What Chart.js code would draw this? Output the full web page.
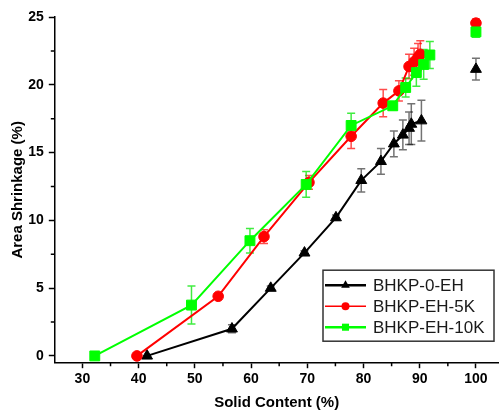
<!DOCTYPE html>
<html>
<head>
<meta charset="utf-8">
<script src="https://cdn.jsdelivr.net/npm/chart.js@4.4.0/dist/chart.umd.min.js"></script>
<style>
  html, body { margin: 0; padding: 0; background: #fff; }
  #wrap { width: 499px; height: 410px; }
</style>
</head>
<body>
<div id="wrap"><canvas id="shrinkChart"></canvas></div>
<script>
// tick positions
const xTicks = [30, 40, 50, 60, 70, 80, 90, 100];
const yTicks = [0, 5, 10, 15, 20, 25];
const xMinor = [35, 45, 55, 65, 75, 85, 95];
const yMinor = [2.5, 7.5, 12.5, 17.5, 22.5];

// BHKP-0-EH
const solid0 = [41.5, 56.6, 63.5, 69.5, 75.1, 79.6, 83.1, 85.4, 87.0, 88.1, 88.5, 90.3, 100];
const shrink0 = [0, 2.0, 5.0, 7.6, 10.2, 12.95, 14.35, 15.65, 16.3, 16.8, 17.1, 17.35, 21.15];
const err0 = [0, 0.3, 0.15, 0.15, 0.2, 0.85, 0.95, 0.95, 1.1, 1.2, 1.5, 1.5, 0.8];

// BHKP-EH-5K
const solid5 = [39.7, 54.15, 62.3, 70.3, 77.8, 83.5, 86.3, 88.1, 89.0, 89.7, 90.1, 100];
const shrink5 = [0, 4.4, 8.8, 12.8, 16.2, 18.65, 19.55, 21.35, 21.7, 22.05, 22.25, 24.55];
const err5 = [0, 0, 0.5, 0.5, 0.9, 1.0, 0.75, 0.9, 1.0, 1.0, 1.0, 0.3];

// BHKP-EH-10K
const solid10 = [32.2, 49.4, 59.8, 69.8, 77.8, 85.2, 87.5, 89.4, 90.7, 91.8, 100];
const shrink10 = [0, 3.75, 8.5, 12.65, 17.0, 18.45, 19.8, 20.9, 21.5, 22.2, 23.9];
const err10 = [0, 1.4, 0.9, 0.95, 0.9, 0.3, 0.7, 1.0, 1.1, 1.0, 0.4];

const FONT = "'Liberation Sans', Arial, sans-serif";

function toPoints(xs, ys) {
    return xs.map((x, i) => ({ x: x, y: ys[i] }));
}

function series(label, xs, ys, errs, color, barColor, style, radius, width, order) {
    return {
        label: label,
        data: toPoints(xs, ys),
        errors: errs,
        barColor: barColor,
        borderColor: color,
        backgroundColor: color,
        borderWidth: width,
        pointStyle: style,
        pointRadius: radius,
        pointBorderWidth: 1,
        pointHoverRadius: radius,
        clip: false,
        order: order,
        // the 100 % point is not joined to the curve
        segment: {
            borderColor: ctx => ctx.p1.parsed.x >= 100 ? 'rgba(0,0,0,0)' : color
        }
    };
}

// vertical error bars with caps, drawn under the markers
const errorBars = {
    id: 'errorBars',
    beforeDatasetsDraw(chart) {
        const ctx = chart.ctx;
        const xs = chart.scales.x, ys = chart.scales.y;
        ctx.save();
        chart.data.datasets.forEach(ds => {
            ctx.strokeStyle = ds.barColor;
            ctx.lineWidth = 1.5;
            ds.data.forEach((p, i) => {
                const e = ds.errors[i];
                if (!e) return;
                const px = xs.getPixelForValue(p.x);
                const top = ys.getPixelForValue(p.y + e);
                const bot = ys.getPixelForValue(p.y - e);
                ctx.beginPath();
                ctx.moveTo(px, top); ctx.lineTo(px, bot);
                ctx.moveTo(px - 4, top); ctx.lineTo(px + 4, top);
                ctx.moveTo(px - 4, bot); ctx.lineTo(px + 4, bot);
                ctx.stroke();
            });
        });
        ctx.restore();
    }
};

// short minor ticks between the labelled ones
const minorTicks = {
    id: 'minorTicks',
    afterDraw(chart) {
        const ctx = chart.ctx;
        const xs = chart.scales.x, ys = chart.scales.y;
        const area = chart.chartArea;
        ctx.save();
        ctx.strokeStyle = '#000';
        ctx.lineWidth = 1.5;
        ctx.beginPath();
        xMinor.forEach(v => {
            const px = xs.getPixelForValue(v);
            ctx.moveTo(px, area.bottom); ctx.lineTo(px, area.bottom + 3.5);
        });
        yMinor.forEach(v => {
            const py = ys.getPixelForValue(v);
            ctx.moveTo(area.left, py); ctx.lineTo(area.left - 3.5, py);
        });
        ctx.stroke();
        ctx.restore();
    }
};

function marker(ctx, style, x, y, r) {
    ctx.beginPath();
    if (style === 'triangle') {
        ctx.moveTo(x, y - r);
        ctx.lineTo(x + r * 0.866, y + r * 0.5);
        ctx.lineTo(x - r * 0.866, y + r * 0.5);
        ctx.closePath();
    } else if (style === 'rect') {
        ctx.rect(x - r * 0.707, y - r * 0.707, r * 1.414, r * 1.414);
    } else {
        ctx.arc(x, y, r, 0, Math.PI * 2);
    }
    ctx.fill();
}

// boxed legend inside the lower right corner
const boxLegend = {
    id: 'boxLegend',
    afterDraw(chart) {
        const ctx = chart.ctx;
        const area = chart.chartArea;
        const w = 171, h = 71;
        const left = area.right - 5 - w;
        const top = area.bottom - 21.5 - h;
        ctx.save();
        ctx.fillStyle = '#fff';
        ctx.fillRect(left, top, w, h);
        ctx.strokeStyle = '#333';
        ctx.lineWidth = 1.5;
        ctx.strokeRect(left, top, w, h);
        const lineW = [2.5, 1.5, 2.5];
        const markR = [5, 4, 5];
        ctx.font = '17px ' + FONT;
        ctx.textBaseline = 'middle';
        chart.data.datasets.forEach((ds, i) => {
            const cy = top + 15 + i * 21;
            ctx.strokeStyle = ds.borderColor;
            ctx.lineWidth = lineW[i];
            ctx.beginPath();
            ctx.moveTo(left + 2, cy); ctx.lineTo(left + 43, cy);
            ctx.stroke();
            ctx.fillStyle = ds.borderColor;
            marker(ctx, ds.pointStyle, left + 22.5, cy, markR[i]);
            ctx.fillStyle = '#1a1a1a';
            ctx.fillText(ds.label, left + 50, cy + 1);
        });
        ctx.restore();
    }
};

new Chart(document.getElementById('shrinkChart'), {
    type: 'line',
    data: {
        datasets: [
            series('BHKP-0-EH', solid0, shrink0, err0, '#000000', 'rgba(0,0,0,0.55)', 'triangle', 6.3, 2, 3),
            series('BHKP-EH-5K', solid5, shrink5, err5, '#ff0000', 'rgba(255,0,0,0.7)', 'circle', 5.3, 2, 2),
            series('BHKP-EH-10K', solid10, shrink10, err10, '#00ff00', 'rgba(0,230,0,0.75)', 'rect', 7, 2, 1)
        ]
    },
    options: {
        responsive: true,
        maintainAspectRatio: false,
        animation: false,
        layout: { autoPadding: false, padding: { top: 17, right: 0, left: 0, bottom: 0 } },
        plugins: {
            legend: { display: false },
            tooltip: { enabled: false }
        },
        scales: {
            x: {
                type: 'linear',
                min: 25,
                max: 104.1,
                afterBuildTicks: s => { s.ticks = xTicks.map(v => ({ value: v })); },
                afterFit: s => { s.height = 47.3; s.paddingRight = 0; s.paddingLeft = 0; },
                border: { display: true, color: '#000', width: 1.5 },
                grid: { display: true, drawOnChartArea: false, drawTicks: true, tickLength: 5.5, tickColor: '#000', tickWidth: 1.5 },
                ticks: { color: '#000', font: { family: FONT, size: 14, weight: 'bold' }, padding: 3, maxRotation: 0, autoSkip: false },
                title: { display: true, text: 'Solid Content (%)', color: '#000', font: { family: FONT, size: 15, weight: 'bold' }, padding: { top: 0, bottom: -2 } }
            },
            y: {
                type: 'linear',
                min: -0.5,
                max: 25,
                afterBuildTicks: s => { s.ticks = yTicks.map(v => ({ value: v })); },
                afterFit: s => { s.width = 54.3; },
                border: { display: true, color: '#000', width: 1.5 },
                grid: { display: true, drawOnChartArea: false, drawTicks: true, tickLength: 5.5, tickColor: '#000', tickWidth: 1.5 },
                ticks: { color: '#000', font: { family: FONT, size: 14, weight: 'bold' }, padding: 5, autoSkip: false },
                title: { display: true, text: 'Area Shrinkage (%)', color: '#000', font: { family: FONT, size: 15, weight: 'bold' }, padding: { top: 9, bottom: 0 } }
            }
        }
    },
    plugins: [errorBars, minorTicks, boxLegend]
});
</script>
</body>
</html>
